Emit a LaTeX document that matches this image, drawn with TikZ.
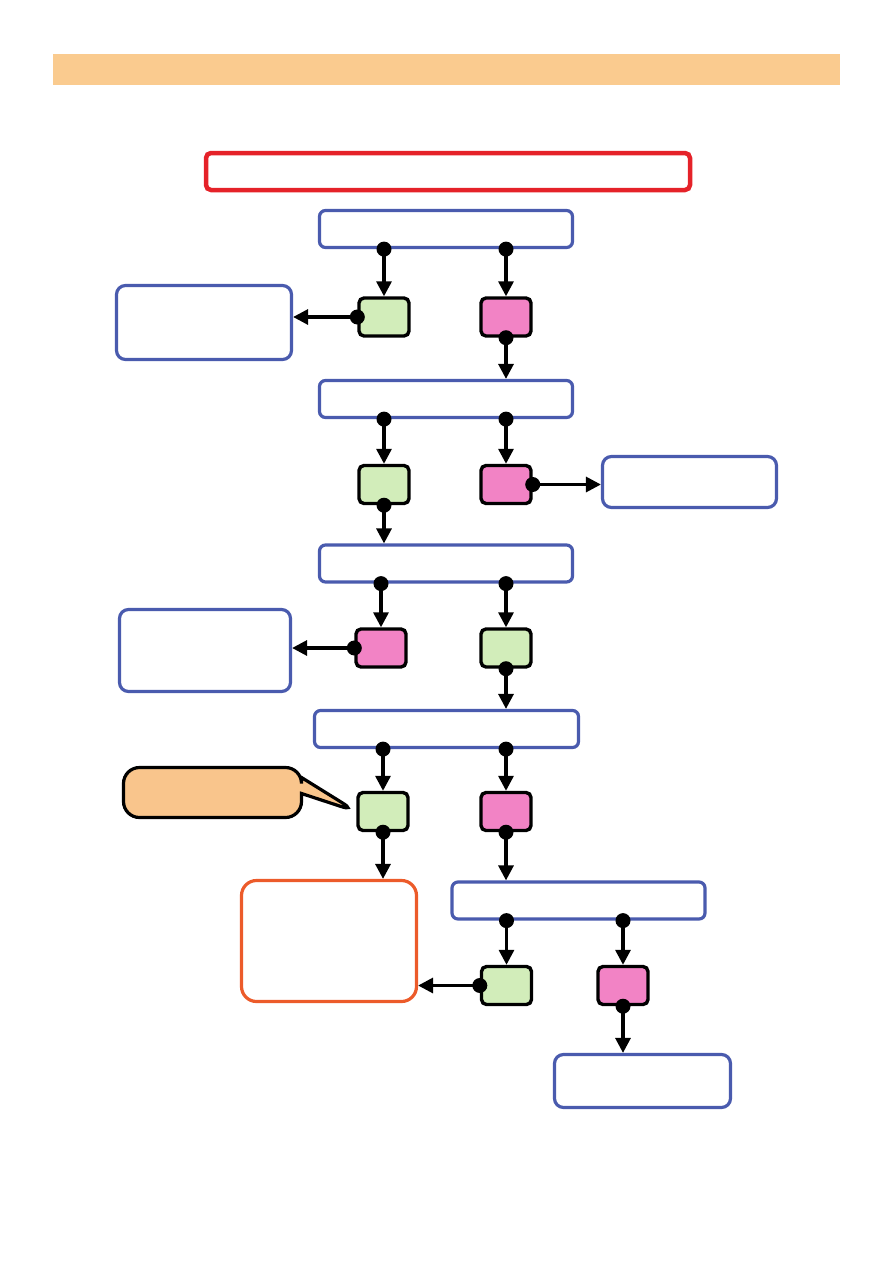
\documentclass[tikz,border=0pt]{standalone}
\usepackage{tikz}
\usetikzlibrary{arrows.meta,positioning,shapes.callouts}
\definecolor{Band}{HTML}{FACB8F}
\definecolor{Alert}{HTML}{E52229}
\definecolor{Frame}{HTML}{4A5BAE}
\definecolor{PassFill}{HTML}{D2EDBA}
\definecolor{FailFill}{HTML}{F283C5}
\definecolor{Ember}{HTML}{EC5B2A}
\definecolor{Peach}{HTML}{F9C58C}
\newcommand{\wire}[2]{\draw[arr] (#1) -- (#2); \fill (#1) circle (7.5pt);}

\begin{document}
\begin{tikzpicture}[
  x=1pt,y=-1pt,
  stage/.style={rounded corners=6pt,draw=Frame,line width=3.2pt,fill=white,minimum width=253pt,minimum height=37pt},
  note/.style={rounded corners=9pt,draw=Frame,line width=3.2pt,fill=white},
  pass/.style={rounded corners=5pt,draw=black,line width=3.4pt,fill=PassFill,minimum width=50pt,minimum height=38pt},
  fail/.style={rounded corners=5pt,draw=black,line width=3.4pt,fill=FailFill,minimum width=50pt,minimum height=38pt},
  arr/.style={-{Triangle[length=15pt,width=15pt]},line width=3.2pt}
]
\useasboundingbox (0,0) rectangle (893,1263);
\node[fill=Band,minimum width=787pt,minimum height=31pt,inner sep=0pt] (band) at (446.5,69.5) {};
\node[rounded corners=5pt,draw=Alert,line width=4.5pt,minimum width=484pt,minimum height=37pt] (alert) at (448,171.5) {};

\node[stage] (s1) at (446,229) {};
\node[pass] (g1) at (384,317) {};
\node[fail] (p1) at (506,317) {};
\node[note,minimum width=175pt,minimum height=74pt] (na) at (204,322.5) {};

\node[stage] (s2) at (446,399) {};
\node[pass] (g2) at (384,484.5) {};
\node[fail] (p2) at (506,484.5) {};
\node[note,minimum width=174pt,minimum height=51pt] (nb) at (689.5,482) {};

\node[stage] (s3) at (446,563.5) {};
\node[fail] (p3) at (381,648) {};
\node[pass] (g3) at (506,648) {};
\node[note,minimum width=171pt,minimum height=82pt] (nc) at (205,650.5) {};

\node[stage,minimum width=264pt] (s4) at (446.5,729) {};
\node[pass] (g4) at (383,811.5) {};
\node[fail] (p4) at (506,811.5) {};
\node[rectangle callout,rounded corners=16pt,draw=black,line width=3.2pt,fill=Peach,
  minimum width=178pt,minimum height=50pt,callout pointer width=16pt,
  callout absolute pointer={(g4.west)}] (tip) at (212.5,792.5) {};
\node[rounded corners=15pt,draw=Ember,line width=3.2pt,minimum width=175pt,minimum height=121pt] (nd) at (329,941) {};

\node[stage] (s5) at (578.5,900.5) {};
\node[pass] (g5) at (506.5,985.5) {};
\node[fail] (p5) at (623,985.5) {};
\node[note,minimum width=176pt,minimum height=53pt] (ne) at (642.5,1081) {};

% stage 1
\wire{s1.south -| g1}{g1.north}
\wire{s1.south -| p1}{p1.north}
\wire{g1.west}{g1.west -| na.east}
\wire{p1.south}{p1.south |- s2.north}
% stage 2
\wire{s2.south -| g2}{g2.north}
\wire{s2.south -| p2}{p2.north}
\wire{p2.east}{p2.east -| nb.west}
\wire{g2.south}{g2.south |- s3.north}
% stage 3
\wire{s3.south -| p3}{p3.north}
\wire{s3.south -| g3}{g3.north}
\wire{p3.west}{p3.west -| nc.east}
\wire{g3.south}{g3.south |- s4.north}
% stage 4
\wire{s4.south -| g4}{g4.north}
\wire{s4.south -| p4}{p4.north}
\wire{g4.south}{g4.south |- nd.north}
\wire{p4.south}{p4.south |- s5.north}
% stage 5
\wire{s5.south -| g5}{g5.north}
\wire{s5.south -| p5}{p5.north}
\wire{g5.west}{g5.west -| nd.east}
\wire{p5.south}{p5.south |- ne.north}
\end{tikzpicture}
\end{document}
